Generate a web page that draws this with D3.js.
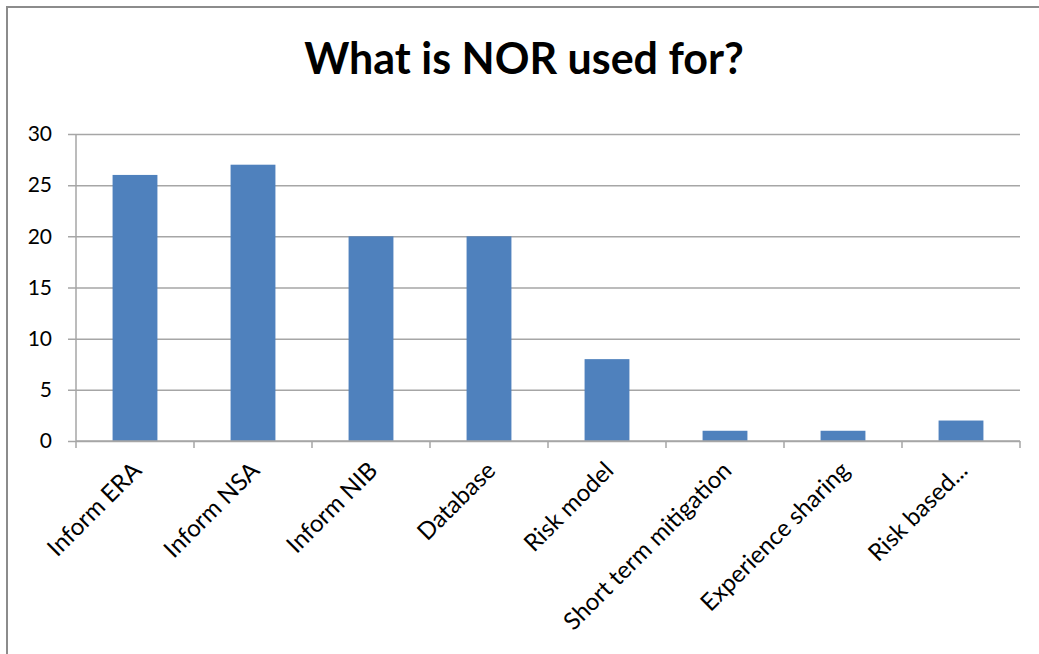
<!DOCTYPE html>
<html>
<head>
<meta charset="utf-8">
<script src="https://cdn.jsdelivr.net/npm/d3@7"></script>
<style>
  html, body { margin: 0; padding: 0; background: #fff; }
  svg { display: block; }
  text { font-family: Lato, "Open Sans", sans-serif; fill: #000; }
</style>
</head>
<body>
<svg id="chart" width="1039" height="654"></svg>
<script>
// Survey answers: what the NOR is used for
const categories = ["Inform ERA", "Inform NSA", "Inform NIB", "Database", "Risk model",
                    "Short term mitigation", "Experience sharing", "Risk based..."];
const counts = [26, 27, 20, 20, 8, 1, 1, 2];
const yTicks = [0, 5, 10, 15, 20, 25, 30];
const title = "What is NOR used for?";

const W = 1039, H = 654;
const plot = { left: 76, right: 1020, top: 134, bottom: 441 };
const gridColor = "#a6a6a6";
const barColor = "#4f81bd";

const svg = d3.select("#chart");

// outer chart frame (only top and left edges fall inside the view)
svg.append("rect")
  .attr("x", 7).attr("y", 7)
  .attr("width", W + 20).attr("height", H + 20)
  .attr("fill", "#fff")
  .attr("stroke", "#8c8c8c")
  .attr("stroke-width", 2);

svg.append("text")
  .attr("x", 524).attr("y", 74)
  .attr("text-anchor", "middle")
  .style("font-weight", "bold")
  .style("font-size", "43px")
  .text(title);

const x = d3.scaleBand()
  .domain(categories)
  .range([plot.left, plot.right])
  .paddingInner(0.62)
  .paddingOuter(0.31);

const y = d3.scaleLinear()
  .domain([0, 30])
  .range([plot.bottom, plot.top]);

// horizontal gridlines with short ticks to the left
const yAxis = d3.axisLeft(y)
  .tickValues(yTicks)
  .tickSize(plot.right - plot.left + 8)
  .tickPadding(16)
  .tickFormat(d3.format("d"));

const gy = svg.append("g")
  .attr("transform", `translate(${plot.right},0)`)
  .call(yAxis);
gy.select(".domain").remove();
gy.selectAll(".tick line")
  .attr("stroke", gridColor)
  .attr("stroke-width", 1.5);
gy.selectAll(".tick text")
  .attr("x", -(plot.right - plot.left) - 24)
  .style("font-size", "21px")
  .attr("fill", "#000");

// vertical value axis line
svg.append("line")
  .attr("x1", plot.left).attr("x2", plot.left)
  .attr("y1", plot.top).attr("y2", plot.bottom)
  .attr("stroke", gridColor).attr("stroke-width", 1.5);

// bars
svg.append("g")
  .selectAll("rect")
  .data(counts)
  .join("rect")
  .attr("x", (d, i) => x(categories[i]))
  .attr("y", d => y(d))
  .attr("width", x.bandwidth())
  .attr("height", d => y(0) - y(d))
  .attr("fill", barColor);

// category axis with boundary ticks
const step = x.step();
const boundaries = d3.range(categories.length + 1).map(i => plot.left + i * step);
const gx = svg.append("g");
gx.append("line")
  .attr("x1", plot.left).attr("x2", plot.right)
  .attr("y1", plot.bottom).attr("y2", plot.bottom)
  .attr("stroke", gridColor).attr("stroke-width", 1.5);
gx.selectAll("line.tick")
  .data(boundaries)
  .join("line")
  .attr("class", "tick")
  .attr("x1", d => d).attr("x2", d => d)
  .attr("y1", plot.bottom).attr("y2", plot.bottom + 7)
  .attr("stroke", gridColor).attr("stroke-width", 1.5);

gx.selectAll("text")
  .data(categories)
  .join("text")
  .attr("transform", d => `translate(${x(d) + x.bandwidth() / 2 + 8},${plot.bottom + 31}) rotate(-45)`)
  .attr("text-anchor", "end")
  .style("font-size", "24px")
  .text(d => d);
</script>
</body>
</html>
